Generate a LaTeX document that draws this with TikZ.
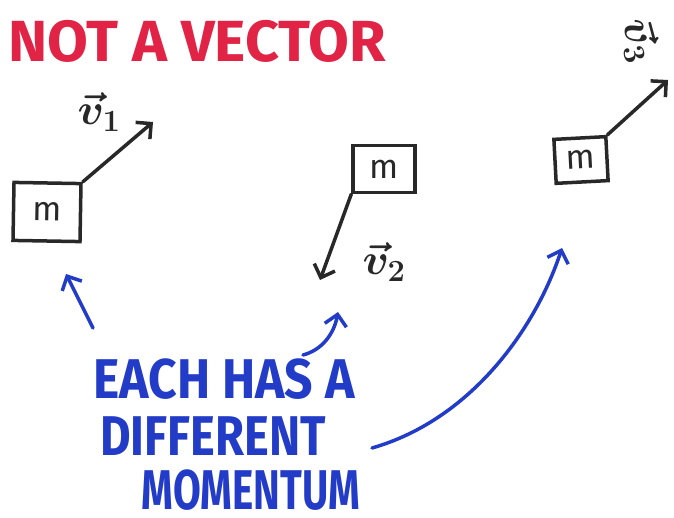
\RequirePackage{fix-cm}
\documentclass[tikz,border=0pt]{standalone}
\usepackage{amsmath}
\usepackage{fontspec}
\setmainfont{Fira Sans}
\usetikzlibrary{arrows.meta}
\definecolor{penred}{RGB}{225,35,70}
\definecolor{penblue}{RGB}{35,60,200}
\definecolor{penblack}{RGB}{40,40,40}
\tikzset{
  massbox/.style={draw=penblack, line width=3.5pt, inner sep=0pt, text=penblack,
    font=\fontsize{34}{34}\selectfont},
  velarrow/.style={draw=penblack, line width=3.5pt, line cap=round,
    -{Straight Barb[length=11pt,width=22pt]}},
  notearrow/.style={draw=penblue, line width=3.5pt, line cap=round,
    -{Straight Barb[length=11pt,width=22pt]}},
  vlabel/.style={text=penblack, font=\fontsize{44}{44}\selectfont},
  bluetext/.style={text=penblue, inner sep=0pt, font=\fontsize{56}{56}\selectfont\bfseries}
}
\begin{document}
\begin{tikzpicture}[x=1pt,y=-1pt]
  \useasboundingbox[fill=white] (0,0) rectangle (674,518);
  \node[text=penred, inner sep=0pt, font=\fontsize{58}{58}\selectfont\bfseries, xscale=1.02] (title) at (197,41) {NOT A VECTOR};
  % the three masses
  \node[massbox, minimum width=67pt, minimum height=58pt, rotate=-1] (b1) at (47,212) {m};
  \node[massbox, minimum width=62pt, minimum height=47pt] (b2) at (384,169) {m};
  \node[massbox, minimum width=52pt, minimum height=44pt, rotate=3] (b3) at (581,160) {m};
  \coordinate (t1) at (153,122);
  \coordinate (t2) at (320,280);
  \coordinate (t3) at (668,80);
  \draw[velarrow] (b1.north east) -- (t1);
  \draw[velarrow] (b2.south west) -- (t2);
  \draw[velarrow] (b3.north east) -- (t3);
  \node[vlabel] (v1) at (99,112) {$\boldsymbol{\vec{v}_1}$};
  \node[vlabel] (v2) at (384,262) {$\boldsymbol{\vec{v}_2}$};
  \node[vlabel, rotate=-75] (v3) at (640,40) {$\boldsymbol{\vec{v}_3}$};
  % the note
  \node[bluetext, xscale=0.89] (each) at (224,379) {EACH HAS A};
  \node[bluetext, xscale=0.84] (diff) at (213,436) {DIFFERENT};
  \node[bluetext, xscale=0.72] (mom) at (251,490) {MOMENTUM};
  \coordinate (n1) at (93,328);
  \coordinate (h1) at (66,274);
  \coordinate (n2) at (303,355);
  \coordinate (h2) at (338,312);
  \coordinate (n3) at (372,448);
  \coordinate (h3) at (562,248);
  \draw[notearrow] (n1) -- (h1);
  \draw[notearrow] (n2) .. controls (322,350) and (334,334) .. (h2);
  \draw[notearrow] (n3) .. controls (470,420) and (535,330) .. (h3);
\end{tikzpicture}
\end{document}
